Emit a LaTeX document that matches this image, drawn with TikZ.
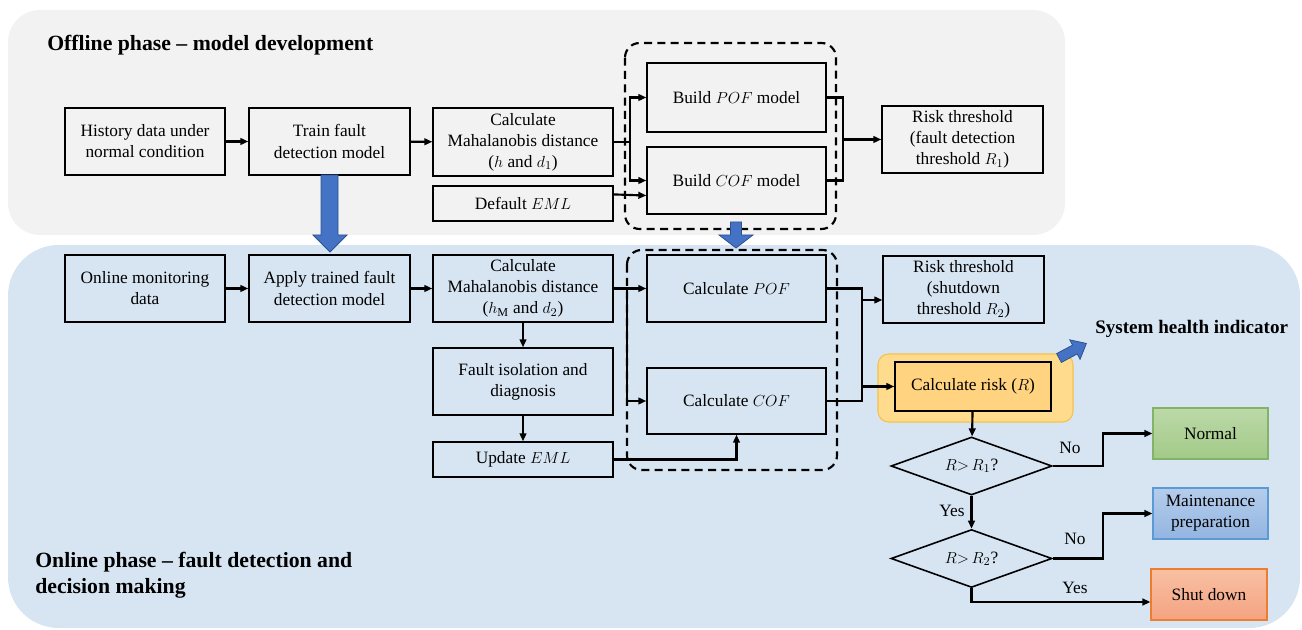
\documentclass[tikz,border=0pt]{standalone}
\usepackage{fontspec}
\setmainfont{Liberation Serif}
\usetikzlibrary{shapes.geometric,arrows.meta,calc}
\definecolor{offbg}{HTML}{F2F2F2}
\definecolor{onbg}{HTML}{D7E5F3}
\definecolor{bluearr}{HTML}{4472C4}
\definecolor{bluearrd}{HTML}{2F528F}
\definecolor{orbg}{HTML}{FFDB8E}
\definecolor{orbd}{HTML}{F5C24A}
\definecolor{orin}{HTML}{FFD380}
\definecolor{grt}{HTML}{BCD9A8}
\definecolor{grb}{HTML}{A3CA89}
\definecolor{grd}{HTML}{82B366}
\definecolor{blt}{HTML}{B5CDEC}
\definecolor{blb}{HTML}{93B5E1}
\definecolor{bld}{HTML}{5B9BD5}
\definecolor{sat}{HTML}{F8C0A3}
\definecolor{sab}{HTML}{F4A381}
\definecolor{sad}{HTML}{ED7D31}
\newcommand\mybox[7][]{%
  \pgfmathsetmacro\mbw{(#5-#3)*0.75}%
  \pgfmathsetmacro\mbh{(#6-#4)*0.75}%
  \node[box,minimum width=\mbw pt,minimum height=\mbh pt,#1] (#2) at ({(#3+#5)/2},{(#4+#6)/2}) {#7};}
\begin{document}
\begin{tikzpicture}[x=0.75pt,y=-0.75pt,
  box/.style={draw=black,line width=1pt,inner sep=0pt,align=center,
    font=\fontsize{13}{15.8}\selectfont},
  line/.style={line width=1.6pt},
  arr/.style={line width=1.6pt,-{Triangle[length=6pt,width=5pt]}},
  dec/.style={diamond,draw=black,line width=1.2pt,aspect=2.78,
    minimum width=120.75pt,minimum height=43.5pt,inner sep=0pt,
    font=\fontsize{13}{15.8}\selectfont},
  lbl/.style={inner sep=0pt,font=\fontsize{13}{15.8}\selectfont},
  title/.style={inner sep=0pt,align=left,font=\fontsize{16.3}{19.5}\selectfont\bfseries},
  dashbox/.style={draw=black,line width=1.6pt,dash pattern=on 6pt off 4pt,rounded corners=11pt},
  bigarrow/.style={fill=bluearr,draw=bluearrd,line width=0.6pt}]
\useasboundingbox (0,0) rectangle (1302,630);
% backgrounds
\fill[offbg,rounded corners=24pt] (8,10) rectangle (1065,235);
\fill[onbg,rounded corners=38pt] (8,245) rectangle (1300,628);
% titles
\node[title,anchor=west] (offt) at (47,45) {Offline phase \textendash{} model development};
\node[title,anchor=west] (ont) at (35,575) {Online phase \textendash{} fault detection and\\decision making};
\node[title,anchor=west,font=\fontsize{14.3}{17}\selectfont\bfseries] (shi) at (1095,329) {System health indicator};
% dashed groups
\draw[dashbox] (625,43) rectangle (836,229);
\draw[dashbox] (627,250) rectangle (837,470);
% offline boxes
\mybox{hist}{65}{108}{225}{175}{History data under\\normal condition}
\mybox{train}{249}{108}{410}{175}{Train fault\\detection model}
\mybox{calc1}{433}{108}{613}{176}{Calculate\\Mahalanobis distance\\($h$ and $d_1$)}
\mybox{deml}{433}{186}{613}{221}{Default $EML$}
\mybox{bpof}{647}{63}{826}{132}{Build $POF$ model}
\mybox{bcof}{647}{147}{826}{214}{Build $COF$ model}
\mybox{rt1}{882}{106}{1043}{173}{Risk threshold\\(fault detection\\threshold $R_1$)}
% online boxes
\mybox{omd}{65}{255}{225}{322}{Online monitoring\\data}
\mybox{apply}{249}{255}{410}{322}{Apply trained fault\\detection model}
\mybox{calc2}{433}{255}{613}{322}{Calculate\\Mahalanobis distance\\($h_{\mathrm{M}}$ and $d_2$)}
\mybox{fiso}{433}{348}{613}{415}{Fault isolation and\\diagnosis}
\mybox{ueml}{433}{442}{613}{477}{Update $EML$}
\mybox{cpof}{647}{255}{826}{322}{Calculate $POF$}
\mybox{ccof}{647}{368}{826}{434}{Calculate $COF$}
\mybox{rt2}{883}{256}{1044}{323}{Risk threshold\\(shutdown\\threshold $R_2$)}
\mybox[draw=orbd,fill=orbg,rounded corners=8pt,line width=0.8pt]{riskbg}{878}{354}{1073}{422}{}
\mybox[fill=orin]{risk}{895}{362}{1051}{411}{Calculate risk ($R$)}
\mybox[draw=grd,top color=grt,bottom color=grb,line width=0.8pt]{normal}{1153}{408}{1268}{459}{Normal}
\mybox[draw=bld,top color=blt,bottom color=blb,line width=0.8pt]{maint}{1153}{488}{1268}{539}{Maintenance\\preparation}
\mybox[draw=sad,top color=sat,bottom color=sab,line width=0.8pt]{shut}{1151}{569}{1267}{620}{Shut down}
\node[dec] (d1) at (971.5,466) {$R{>}\,R_1$?};
\node[dec] (d2) at (971.5,558.5) {$R{>}\,R_2$?};
% junction coordinates
\coordinate (j1) at (630,142);
\coordinate (j2) at (843,139.5);
\coordinate (j3) at (627,288.5);
\coordinate (j4) at (862,300);
\coordinate (j5) at (862,386.5);
\coordinate (xc) at (1103,0);
% offline connectors
\draw[arr] (hist) -- (train);
\draw[arr] (train) -- (calc1);
\draw[line] (calc1.east |- j1) -- (j1);
\draw[arr] (j1) |- (bpof.west);
\draw[arr] (j1) |- (bcof.west);
\draw[arr] ($(deml.north east)!0.25!(deml.south east)$) -- ($(bcof.north west)!0.72!(bcof.south west)$);
\draw[line] (bpof.east) -| (j2);
\draw[line] (bcof.east) -| (j2);
\draw[arr] (j2) -- (rt1.west);
% online connectors
\draw[arr] (omd) -- (apply);
\draw[arr] (apply) -- (calc2);
\draw[arr] (calc2.east) -- (cpof.west);
\draw[arr] (j3) |- (ccof.west);
\draw[arr] (calc2) -- (fiso);
\draw[arr] (fiso) -- (ueml);
\draw[arr] (ueml.east) -| (ccof.south);
\draw[line] (cpof.east) -| (j5);
\draw[line] (ccof.east) -| (j4);
\draw[arr] (j4) -- (j4 -| rt2.west);
\draw[arr] (j5) -- (risk.west);
\draw[arr] (risk) -- (d1);
\draw[arr] (d1.east) -- (d1.east -| xc) |- (normal.west);
\draw[arr] (d1) -- (d2);
\draw[arr] (d2.east) -- (d2.east -| xc) |- (maint.west);
\draw[arr] (d2.south) |- ($(shut.west)+(0,7.5)$);
% labels
\node[lbl] (no1) at (1070,448) {No};
\node[lbl] (yes1) at (952,511) {Yes};
\node[lbl] (no2) at (1075,539) {No};
\node[lbl] (yes2) at (1075,588) {Yes};
% big blue arrows
\draw[bigarrow] (321,175) -- (338,175) -- (338,235) -- (347,235) -- (330,252) -- (313,235) -- (321,235) -- cycle;
\draw[bigarrow] (730.5,222) -- (741.5,222) -- (741.5,235) -- (753,235) -- (736,248) -- (719,235) -- (730.5,235) -- cycle;
\begin{scope}[shift={(1059,358)},rotate=28]
\draw[bigarrow] (0,-5) -- (18,-5) -- (18,-11) -- (31,0) -- (18,11) -- (18,5) -- (0,5) -- cycle;
\end{scope}
\end{tikzpicture}
\end{document}
